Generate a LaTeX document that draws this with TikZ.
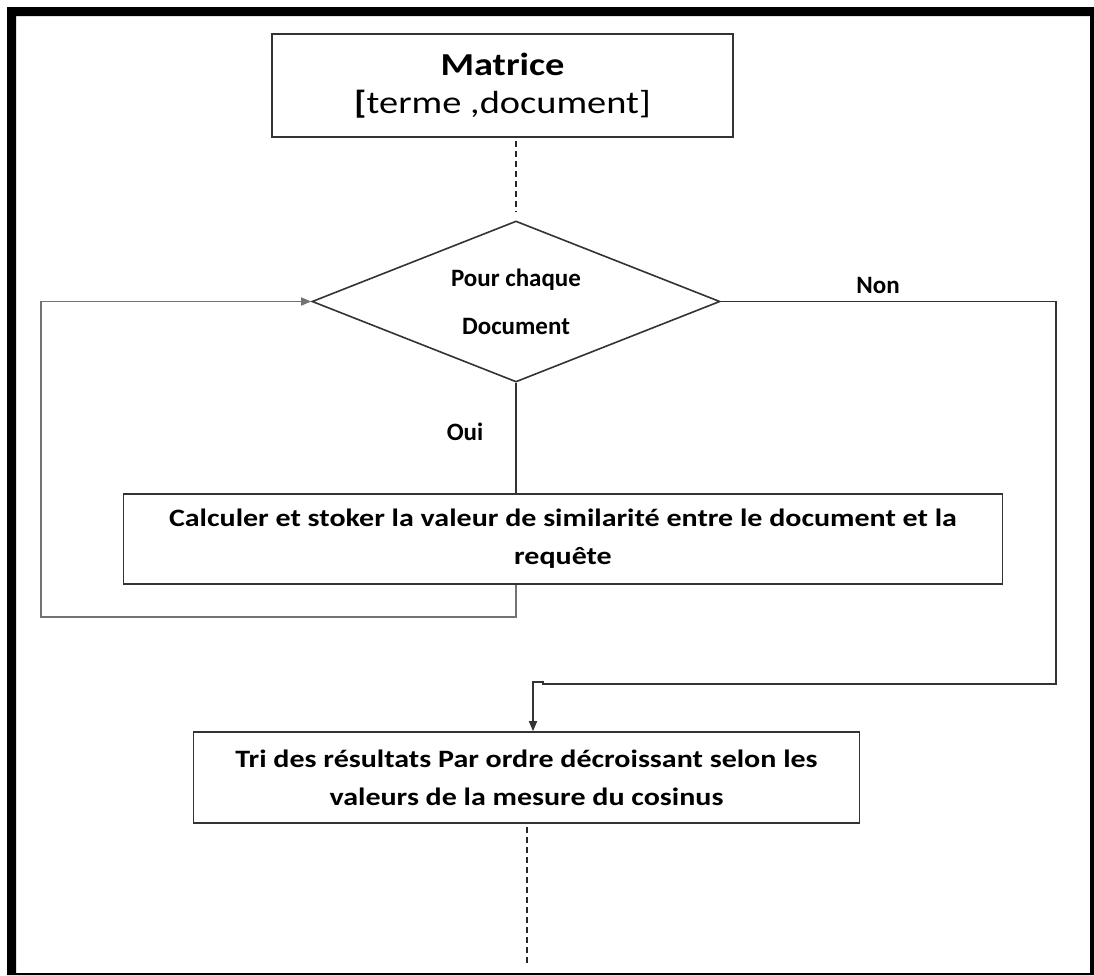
\documentclass[tikz,border=0pt]{standalone}
\usepackage{fontspec}
\setmainfont{Carlito}
\newfontfamily\widefont[FakeStretch=1.2]{Carlito}
\usetikzlibrary{arrows.meta,shapes.geometric}

\begin{document}
\begin{tikzpicture}[
				x=1pt, y=-1pt,
				every node/.style={font=\fontsize{25}{38}\selectfont\bfseries, inner sep=0pt},
				box/.style={draw=black!80, line width=1.6pt, align=center},
				wide/.style={font=\widefont\fontsize{25}{38}\selectfont\bfseries},
				flow/.style={draw=black!80, line width=1.6pt},
				back/.style={draw=black!55, line width=1.6pt},
				dashline/.style={draw=black!85, line width=1.6pt, dash pattern=on 6pt off 4pt},
				tip/.style={-{Triangle[length=10pt,width=8pt]}}
				]
				
				\useasboundingbox (0,0) rectangle (1094,975);
				
				% Page frame
				\fill[black, even odd rule] (7,7) rectangle (1094,975) (16,16) rectangle (1090,973);
				
				% Boxes
				\node[box, wide, minimum width=461pt, minimum height=103pt] (mat) at (502.5,85.5)
				{{\fontsize{32}{40}\selectfont Matrice}\\
					{\fontsize{32}{40}\selectfont\mdseries{\bfseries[}terme ,document]}};
				
				\node[box, shape=diamond, aspect=2.53, minimum width=408pt, minimum height=161pt] (dec) at (516,301.5)
				{Pour chaque\\[10pt]Document};
				
				\node[box, wide, minimum width=879pt, minimum height=90pt] (calc) at (563,539)
				{Calculer et stoker la valeur de similarité entre le document et la\\requête};
				
				\node[box, wide, minimum width=666pt, minimum height=91pt] (tri) at (526.5,777.5)
				{Tri des résultats Par ordre décroissant selon les\\valeurs de la mesure du cosinus};
				
				% Labels
				\node (oui) at (465,432) {Oui};
				\node (non) at (878,285) {Non};
				
				% Connectors
				\coordinate (dtop) at (516,212);
				\coordinate (loop) at (41,617);
				\coordinate (nr) at (1056,684);
				\coordinate (jog) at (543,682);
				\coordinate (jogb) at (533,682);
				\coordinate (dend) at (527,963);
				
				\draw[dashline] (dec.north |- mat.south) ++(0,3) -- (dtop);
				\draw[flow] (dec.south) -- (dec.south |- calc.north);
				\draw[back, tip] (dec.south |- calc.south) |- (loop) |- (dec.west);
				\draw[flow, tip] (dec.east) -| (nr) -- (nr -| jog) -- (jog) -- (jogb) -- (jogb |- tri.north);
				\draw[dashline] (dend |- tri.south) ++(0,3) -- (dend);
				
			\end{tikzpicture}
\end{document}
